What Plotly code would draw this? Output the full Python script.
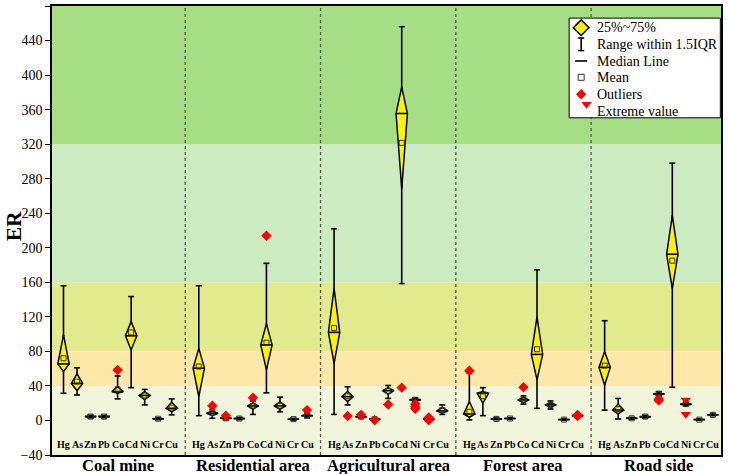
import plotly.graph_objects as go

GROUPS = ["Coal mine", "Residential area", "Agricultural area", "Forest area", "Road side"]
ELEMENTS = ["Hg", "As", "Zn", "Pb", "Co", "Cd", "Ni", "Cr", "Cu"]

# statistics per group (rows) and element (columns)
LOW = [
    [31.5, 29.5, 3.0, 3.0, 25.0, 38.0, 18.0, 1.0, 6.5],
    [5.6, 2.5, 1.0, 1.0, 7.0, 32.0, 10.0, 0.5, 3.0],
    [7.0, 18.0, 3.0, 0.5, 25.5, 158.5, 21.0, 0.5, 7.0],
    [0.6, 5.6, 1.0, 1.4, 19.0, 14.0, 13.3, 0.3, 4.0],
    [12.0, 1.7, 1.5, 3.0, 28.0, 38.5, 17.0, 0.3, 5.5],
]
Q1 = [
    [56.5, 34.5, 3.8, 3.8, 31.5, 81.5, 24.0, 1.5, 10.0],
    [27.5, 5.6, 2.0, 1.7, 13.3, 58.5, 13.0, 1.0, 4.5],
    [66.0, 22.0, 3.8, 1.0, 30.5, 268.5, 22.5, 1.0, 8.5],
    [3.7, 20.0, 1.4, 1.9, 20.7, 47.0, 15.5, 0.6, 5.0],
    [41.0, 7.5, 2.0, 3.8, 29.5, 153.0, 18.0, 0.6, 6.0],
]
MEDIAN = [
    [65.5, 43.0, 4.5, 4.5, 33.5, 98.0, 29.0, 2.0, 14.0],
    [60.5, 8.3, 2.5, 2.2, 16.8, 87.5, 16.8, 1.5, 5.6],
    [102.0, 27.5, 4.4, 1.5, 34.5, 355.5, 24.0, 1.5, 11.0],
    [7.5, 31.5, 1.8, 2.3, 23.8, 76.5, 18.0, 1.0, 5.6],
    [61.5, 12.0, 2.5, 4.4, 30.5, 192.5, 18.7, 1.0, 6.5],
]
Q3 = [
    [99.0, 54.0, 5.2, 5.2, 39.0, 114.5, 33.5, 2.5, 21.0],
    [83.5, 11.0, 3.0, 2.8, 20.0, 112.0, 21.8, 2.0, 7.0],
    [153.0, 33.5, 5.0, 2.0, 38.0, 386.0, 25.0, 2.0, 15.0],
    [22.0, 33.5, 2.2, 2.8, 26.5, 120.0, 20.5, 1.4, 6.3],
    [79.5, 19.0, 3.0, 5.0, 32.0, 237.5, 19.5, 1.4, 7.0],
]
HIGH = [
    [156.0, 61.0, 6.0, 6.0, 51.5, 143.5, 36.0, 3.0, 25.0],
    [156.0, 13.0, 4.0, 3.5, 22.6, 182.0, 27.0, 2.5, 8.5],
    [222.0, 39.0, 5.6, 2.5, 40.5, 456.0, 26.0, 2.5, 18.0],
    [55.0, 38.0, 2.8, 3.2, 28.5, 174.5, 22.6, 1.8, 7.0],
    [115.5, 25.5, 3.5, 5.8, 33.5, 298.0, 21.0, 1.8, 7.5],
]
MEAN = [
    [72.0, 45.0, 4.5, 4.5, 36.0, 102.0, 29.0, 2.0, 15.0],
    [62.5, 9.0, 2.5, 2.2, 17.0, 90.0, 17.0, 1.5, 6.0],
    [107.0, 28.0, 4.4, 1.5, 34.0, 321.5, 24.0, 1.5, 12.0],
    [10.0, 28.0, 1.8, 2.3, 24.0, 82.5, 18.0, 1.0, 5.6],
    [63.5, 13.0, 2.5, 4.5, 30.5, 185.0, 19.0, 1.0, 6.5],
]
# (group index, element index, value)
OUTLIERS = [
    (0, 4, 58.5),
    (1, 1, 17.0), (1, 2, 5.6), (1, 4, 26.4), (1, 5, 214.0), (1, 8, 12.0),
    (2, 1, 5.2), (2, 2, 6.5), (2, 3, 0.3), (2, 4, 18.5), (2, 5, 38.0),
    (2, 6, 19.0), (2, 6, 16.0), (2, 6, 13.5), (2, 7, 3.5), (2, 7, 0.2),
    (3, 0, 57.5), (3, 4, 38.5), (3, 8, 6.5), (3, 8, 5.2),
    (4, 4, 25.0), (4, 4, 23.0),
]
EXTREMES = [(4, 6, 23.8), (4, 6, 7.2)]

BAND_LIMITS = [-40, 40, 80, 160, 320, 480]
BAND_COLORS = ["#f1f6da", "#fde7a9", "#e1eb8e", "#cdebc0", "#a6de86"]

GROUP_STEP = 10
W_DIAMOND = 0.42
W_CAP = 0.22
FONT = "Times New Roman, Liberation Serif, serif"


def xpos(g, i):
    return GROUP_STEP * g + i + 1


wx, wy, dx, dy, mx, my, meanx, meany = [], [], [], [], [], [], [], []
for g in range(len(GROUPS)):
    for i in range(len(ELEMENTS)):
        x = xpos(g, i)
        lo, q1, md, q3, hi = LOW[g][i], Q1[g][i], MEDIAN[g][i], Q3[g][i], HIGH[g][i]
        wx += [x, x, None, x - W_CAP, x + W_CAP, None, x - W_CAP, x + W_CAP, None]
        wy += [lo, hi, None, hi, hi, None, lo, lo, None]
        dx += [x, x + W_DIAMOND, x, x - W_DIAMOND, x, None]
        dy += [q1, md, q3, md, q1, None]
        mx += [x - W_DIAMOND, x + W_DIAMOND, None]
        my += [md, md, None]
        meanx.append(x)
        meany.append(MEAN[g][i])

fig = go.Figure()
fig.add_trace(go.Scatter(x=wx, y=wy, mode="lines", line=dict(color="black", width=1.6),
                         showlegend=False, hoverinfo="skip"))
fig.add_trace(go.Scatter(x=dx, y=dy, mode="lines", fill="toself", fillcolor="#fff200",
                         line=dict(color="black", width=1.5), showlegend=False, hoverinfo="skip"))
fig.add_trace(go.Scatter(x=mx, y=my, mode="lines", line=dict(color="black", width=1.6),
                         showlegend=False, hoverinfo="skip"))
fig.add_trace(go.Scatter(x=meanx, y=meany, mode="markers",
                         marker=dict(symbol="square-open", size=5, color="#333333",
                                     line=dict(width=1)),
                         showlegend=False))
fig.add_trace(go.Scatter(x=[xpos(g, i) for g, i, v in OUTLIERS], y=[v for g, i, v in OUTLIERS],
                         mode="markers", marker=dict(symbol="diamond", size=8, color="#ff0000"),
                         showlegend=False))
fig.add_trace(go.Scatter(x=[xpos(g, i) for g, i, v in EXTREMES], y=[v for g, i, v in EXTREMES],
                         mode="markers", marker=dict(symbol="triangle-down", size=9, color="#ff0000"),
                         showlegend=False))

# ---- legend drawn on an overlay axis in paper-like units
lx0, lx1, ly0, ly1 = 0.773, 0.999, 0.751, 0.973
fig.add_trace(go.Scatter(x=[lx0, lx1, lx1, lx0, lx0], y=[ly0, ly0, ly1, ly1, ly0],
                         xaxis="x2", yaxis="y2", mode="lines", fill="toself",
                         fillcolor="white", line=dict(color="black", width=1),
                         showlegend=False, hoverinfo="skip"))
sx = 0.791
rows = [0.9517, 0.9147, 0.8775, 0.8412, 0.8033, 0.7646]
fig.add_trace(go.Scatter(x=[sx], y=[rows[0]], xaxis="x2", yaxis="y2", mode="markers",
                         marker=dict(symbol="diamond", size=12, color="#fff200",
                                     line=dict(color="black", width=1.5)),
                         showlegend=False, hoverinfo="skip"))
cap = 0.0045
ib0, ib1 = rows[1] - 0.014, rows[1] + 0.014
fig.add_trace(go.Scatter(x=[sx, sx, None, sx - cap, sx + cap, None, sx - cap, sx + cap],
                         y=[ib0, ib1, None, ib1, ib1, None, ib0, ib0],
                         xaxis="x2", yaxis="y2", mode="lines", line=dict(color="black", width=1.6),
                         showlegend=False, hoverinfo="skip"))
fig.add_trace(go.Scatter(x=[sx - 0.009, sx + 0.009], y=[rows[2], rows[2]], xaxis="x2", yaxis="y2",
                         mode="lines", line=dict(color="black", width=1.6),
                         showlegend=False, hoverinfo="skip"))
fig.add_trace(go.Scatter(x=[sx], y=[rows[3]], xaxis="x2", yaxis="y2", mode="markers",
                         marker=dict(symbol="square-open", size=6, color="#333333", line=dict(width=1)),
                         showlegend=False, hoverinfo="skip"))
fig.add_trace(go.Scatter(x=[sx], y=[rows[4]], xaxis="x2", yaxis="y2", mode="markers",
                         marker=dict(symbol="diamond", size=8, color="#ff0000"),
                         showlegend=False, hoverinfo="skip"))
fig.add_trace(go.Scatter(x=[0.799], y=[0.781], xaxis="x2", yaxis="y2", mode="markers",
                         marker=dict(symbol="triangle-down", size=9, color="#ff0000"),
                         showlegend=False, hoverinfo="skip"))
legend_texts = ["25%~75%", "Range within 1.5IQR", "Median Line", "Mean", "Outliers", "Extreme value"]
for t, yv in zip(legend_texts, rows):
    fig.add_annotation(x=0.8117, y=yv, xref="paper", yref="paper", text=t, showarrow=False,
                       xanchor="left", yanchor="middle", font=dict(family=FONT, size=14, color="black"))

shapes = []
for k, col in enumerate(BAND_COLORS):
    shapes.append(dict(type="rect", xref="paper", yref="y", x0=0, x1=1,
                       y0=BAND_LIMITS[k], y1=BAND_LIMITS[k + 1], fillcolor=col,
                       line=dict(width=0), layer="below"))
for g in range(1, len(GROUPS)):
    shapes.append(dict(type="line", xref="x", yref="paper", x0=GROUP_STEP * g, x1=GROUP_STEP * g,
                       y0=0, y1=1, line=dict(color="#555555", width=1.3, dash="dot"), layer="below"))

for g, name in enumerate(GROUPS):
    for i, el in enumerate(ELEMENTS):
        fig.add_annotation(x=xpos(g, i), y=-28, xref="x", yref="y", text="<b>%s</b>" % el,
                           showarrow=False, font=dict(family=FONT, size=10, color="black"))
    fig.add_annotation(x=GROUP_STEP * g + 5, y=0, xref="x", yref="paper", yanchor="top", yshift=1,
                       text="<b>%s</b>" % name, showarrow=False,
                       font=dict(family=FONT, size=16.5, color="black"))

# y-axis title
fig.add_annotation(x=-0.057, y=0.51, xref="paper", yref="paper", text="<b>ER</b>", textangle=-90,
                   showarrow=False, xanchor="center", yanchor="middle",
                   font=dict(family=FONT, size=21, color="black"))

fig.update_layout(
    width=729, height=474,
    margin=dict(l=52, r=8, t=6, b=19, autoexpand=False),
    paper_bgcolor="white", plot_bgcolor="white",
    shapes=shapes,
    showlegend=False,
    font=dict(family=FONT, color="black"),
    xaxis=dict(range=[0.15, 49.6], showticklabels=False, ticks="", showgrid=False, zeroline=False,
               showline=True, mirror=True, linecolor="black", linewidth=1.5, automargin=False),
    yaxis=dict(range=[-40, 480], dtick=40, tick0=0, ticks="outside", ticklen=5, tickwidth=1.2,
               tickcolor="black", showgrid=False, zeroline=False, showline=True, mirror=True,
               linecolor="black", linewidth=1.5, tickfont=dict(family=FONT, size=14),
               automargin=False),
    xaxis2=dict(overlaying="x", range=[0, 1], visible=False, anchor="y2"),
    yaxis2=dict(overlaying="y", range=[0, 1], visible=False, anchor="x2"),
)

fig.write_html("out.html")
